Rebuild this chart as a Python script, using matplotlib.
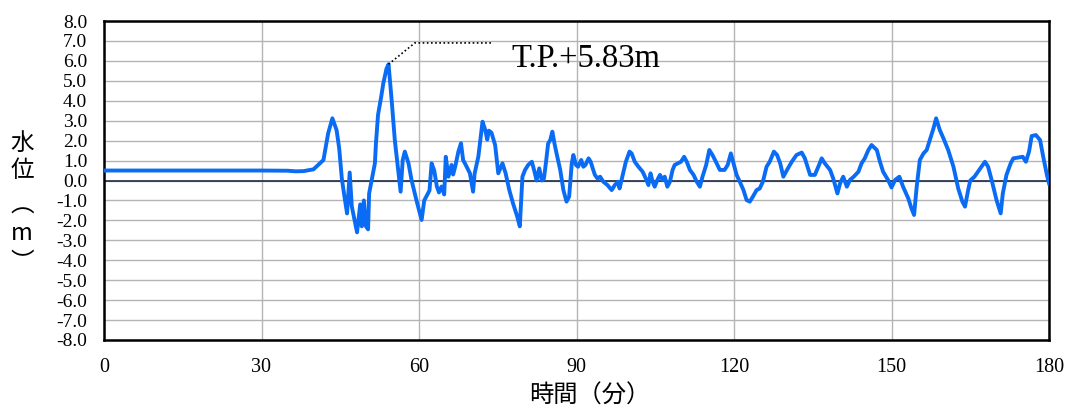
import matplotlib
matplotlib.use("Agg")
import matplotlib.pyplot as plt
import numpy as np

# water level time series (minutes, metres)
time_min = [
    0, 10, 20, 30, 35, 36.5, 38, 39.9, 40.8, 41.8, 42.7, 43.5, 44.3, 44.8, 45.3,
    45.8, 46.3, 46.8, 47.2, 48.2, 48.8, 49.1, 49.5, 49.9, 50.3, 50.5, 51.6,
    51.8, 52.2, 52.8, 53.2, 53.8, 54.2, 54.8, 55.4, 56.1, 56.5, 56.9, 57.3,
    58.0, 58.6, 59.5, 60.5, 61.0, 61.4, 62.0, 62.4, 62.9, 63.4, 63.8, 64.3,
    64.8, 65.1, 65.6, 66.2, 66.5, 66.9, 67.5, 68.0, 68.4, 68.9, 69.7, 70.3,
    70.6, 71.3, 71.6, 72.1, 72.6, 73.0, 73.3, 73.8, 74.5, 75.1, 75.9, 76.5,
    77.2, 77.9, 78.7, 79.2, 79.7, 80.2, 80.8, 81.5, 82.0, 82.4, 82.9, 83.4,
    83.8, 84.2, 84.6, 85.0, 85.4, 85.8, 86.2, 86.9, 87.5, 88.1, 88.6, 89.1,
    89.4, 89.9, 90.3, 90.9, 91.3, 91.7, 92.3, 92.7, 93.1, 93.5, 94.0, 94.5,
    95.1, 95.9, 96.7, 97.3, 97.9, 98.2, 98.8, 99.4, 100.1, 100.5, 101.1,
    101.8, 102.6, 103.2, 103.7, 104.1, 104.5, 104.9, 105.4, 105.9, 106.4,
    106.8, 107.3, 107.8, 108.3, 108.7, 109.3, 109.9, 110.5, 111.0, 111.6,
    112.3, 112.9, 113.5, 114.0, 114.7, 115.3, 115.9, 116.7, 117.3, 118.2,
    118.8, 119.4, 119.9, 120.5, 121.1, 121.8, 122.4, 123.0, 123.6, 124.3,
    124.9, 125.5, 126.2, 126.8, 127.6, 128.2, 128.8, 129.4, 130.1, 131.0,
    131.9, 132.9, 133.5, 134.5, 135.4, 136.2, 136.7, 137.3, 138.3, 138.9,
    139.7, 140.2, 140.8, 141.5, 142.1, 142.8, 143.7, 144.3, 144.9, 145.6,
    146.2, 147.2, 147.8, 148.4, 149.4, 150.0, 150.7, 151.5, 152.2, 153.2,
    153.8, 154.3, 154.8, 155.4, 156.1, 156.7, 157.3, 158.0, 158.5, 159.2,
    159.9, 160.8, 161.8, 162.7, 163.5, 164.0, 164.6, 165.0, 165.8, 166.7,
    167.8, 168.4, 169.1, 170.0, 170.8, 171.2, 171.9, 172.7, 173.2, 174.1,
    175.0, 175.6, 176.2, 176.7, 177.5, 178.3, 178.9, 179.6, 180.0,
]
water_level = [
    0.50, 0.50, 0.50, 0.50, 0.49, 0.46, 0.47, 0.56, 0.78, 1.03, 2.37, 3.12,
    2.53, 1.61, 0.10, -0.81, -1.65, 0.40, -1.30, -2.60, -1.20, -2.30, -1.00,
    -2.30, -2.45, -0.65, 0.86, 1.87, 3.30, 4.20, 4.87, 5.60, 5.83, 4.00,
    2.00, 0.36, -0.56, 1.03, 1.45, 0.86, 0.00, -0.98, -1.98, -1.00, -0.80,
    -0.50, 0.86, 0.50, -0.30, -0.60, -0.30, -0.70, 1.19, 0.19, 0.78, 0.30,
    0.70, 1.45, 1.87, 1.03, 0.78, 0.36, -0.56, 0.36, 1.19, 1.86, 2.95, 2.55,
    2.05, 2.50, 2.40, 1.78, 0.36, 0.86, 0.36, -0.48, -1.14, -1.80, -2.30,
    0.19, 0.53, 0.78, 0.94, 0.44, 0.00, 0.61, 0.00, 0.10, 0.94, 1.86, 2.03,
    2.45, 1.86, 1.36, 0.53, -0.48, -1.06, -0.80, 0.86, 1.28, 0.78, 0.69,
    1.03, 0.69, 0.78, 1.11, 0.94, 0.60, 0.28, 0.10, 0.19, -0.06, -0.23,
    -0.48, -0.23, -0.06, -0.40, 0.28, 0.94, 1.45, 1.36, 0.94, 0.69, 0.44,
    0.10, -0.23, 0.36, -0.06, -0.31, 0.03, 0.28, 0.03, 0.19, -0.31, -0.06,
    0.53, 0.78, 0.86, 0.94, 1.19, 0.94, 0.53, 0.28, -0.06, -0.31, 0.19,
    0.78, 1.53, 1.28, 0.86, 0.53, 0.53, 0.78, 1.36, 0.86, 0.28, -0.06,
    -0.48, -0.98, -1.06, -0.81, -0.48, -0.40, -0.06, 0.69, 0.94, 1.45, 1.28,
    0.86, 0.19, 0.53, 0.94, 1.28, 1.40, 1.11, 0.28, 0.28, 0.78, 1.11, 0.86,
    0.53, 0.10, -0.65, -0.15, 0.19, -0.31, 0.03, 0.19, 0.44, 0.86, 1.11,
    1.53, 1.78, 1.53, 0.94, 0.44, 0.00, -0.35, 0.03, 0.19, -0.31, -0.90,
    -1.40, -1.73, -0.31, 1.03, 1.36, 1.53, 2.03, 2.62, 3.12, 2.53, 2.11,
    1.53, 0.69, -0.39, -1.06, -1.31, -0.48, 0.00, 0.19, 0.53, 0.94, 0.69,
    0.00, -0.98, -1.65, -0.65, 0.28, 0.86, 1.11, 1.15, 1.19, 0.94, 1.45,
    2.23, 2.28, 2.03, 1.19, 0.28, -0.14,
]

x_ticks = [0, 30, 60, 90, 120, 150, 180]
y_ticks = np.arange(-8, 8.5, 1.0)
peak_label = "T.P.+5.83m"
peak_t, peak_h = 54.2, 5.83
leader_x = [peak_t, 59.2, 73.9]
leader_y = [peak_h, 6.9, 6.9]

plt.rcParams['font.family'] = ["Liberation Serif", "DejaVu Serif"]
cjk = ["Noto Sans CJK JP", "DejaVu Sans"]

fig = plt.figure(figsize=(10.68, 4.12), dpi=100)
ax = fig.add_axes([104 / 1068, 1 - 340 / 412, 945 / 1068, 319 / 412])

ax.plot(time_min, water_level, color="#0a6cf5", lw=2.8, solid_joinstyle="round", zorder=3)
ax.axhline(0, color="#1c2a45", lw=1.2, zorder=2)

ax.set_xlim(0, 180)
ax.set_ylim(-8, 8)
ax.set_xticks(x_ticks)
ax.set_yticks(y_ticks)
ax.set_xticklabels([str(v) for v in x_ticks])
ax.set_yticklabels([f"{v:.1f}" for v in y_ticks])
ax.tick_params(length=0)
ax.tick_params(axis="y", pad=12, labelsize=14)
ax.tick_params(axis="x", pad=13, labelsize=14.5)
ax.grid(True, color="#b4b4b4", lw=1.0)
for s in ax.spines.values():
    s.set_linewidth(1.8)
    s.set_color("black")

# leader line and peak annotation
ax.plot(leader_x, leader_y, color="black", lw=1.2, ls=(0, (1, 1.5)), zorder=4)
ax.text(77.6, 6.1, peak_label, fontsize=23.5, va="center", ha="left")

fig.text(590 / 1068, 1 - 396 / 412, "時間（分）", fontfamily=cjk, fontsize=17.5,
         ha="center", va="center")

# vertical stacked y label
for ch, py in zip(["水", "位", "︵", "m", "︶"], [143, 170, 206, 234, 263]):
    fig.text(22 / 1068, 1 - py / 412, ch, fontfamily=cjk, fontsize=17,
             ha="center", va="center")

fig.savefig("out.png", dpi=100)
